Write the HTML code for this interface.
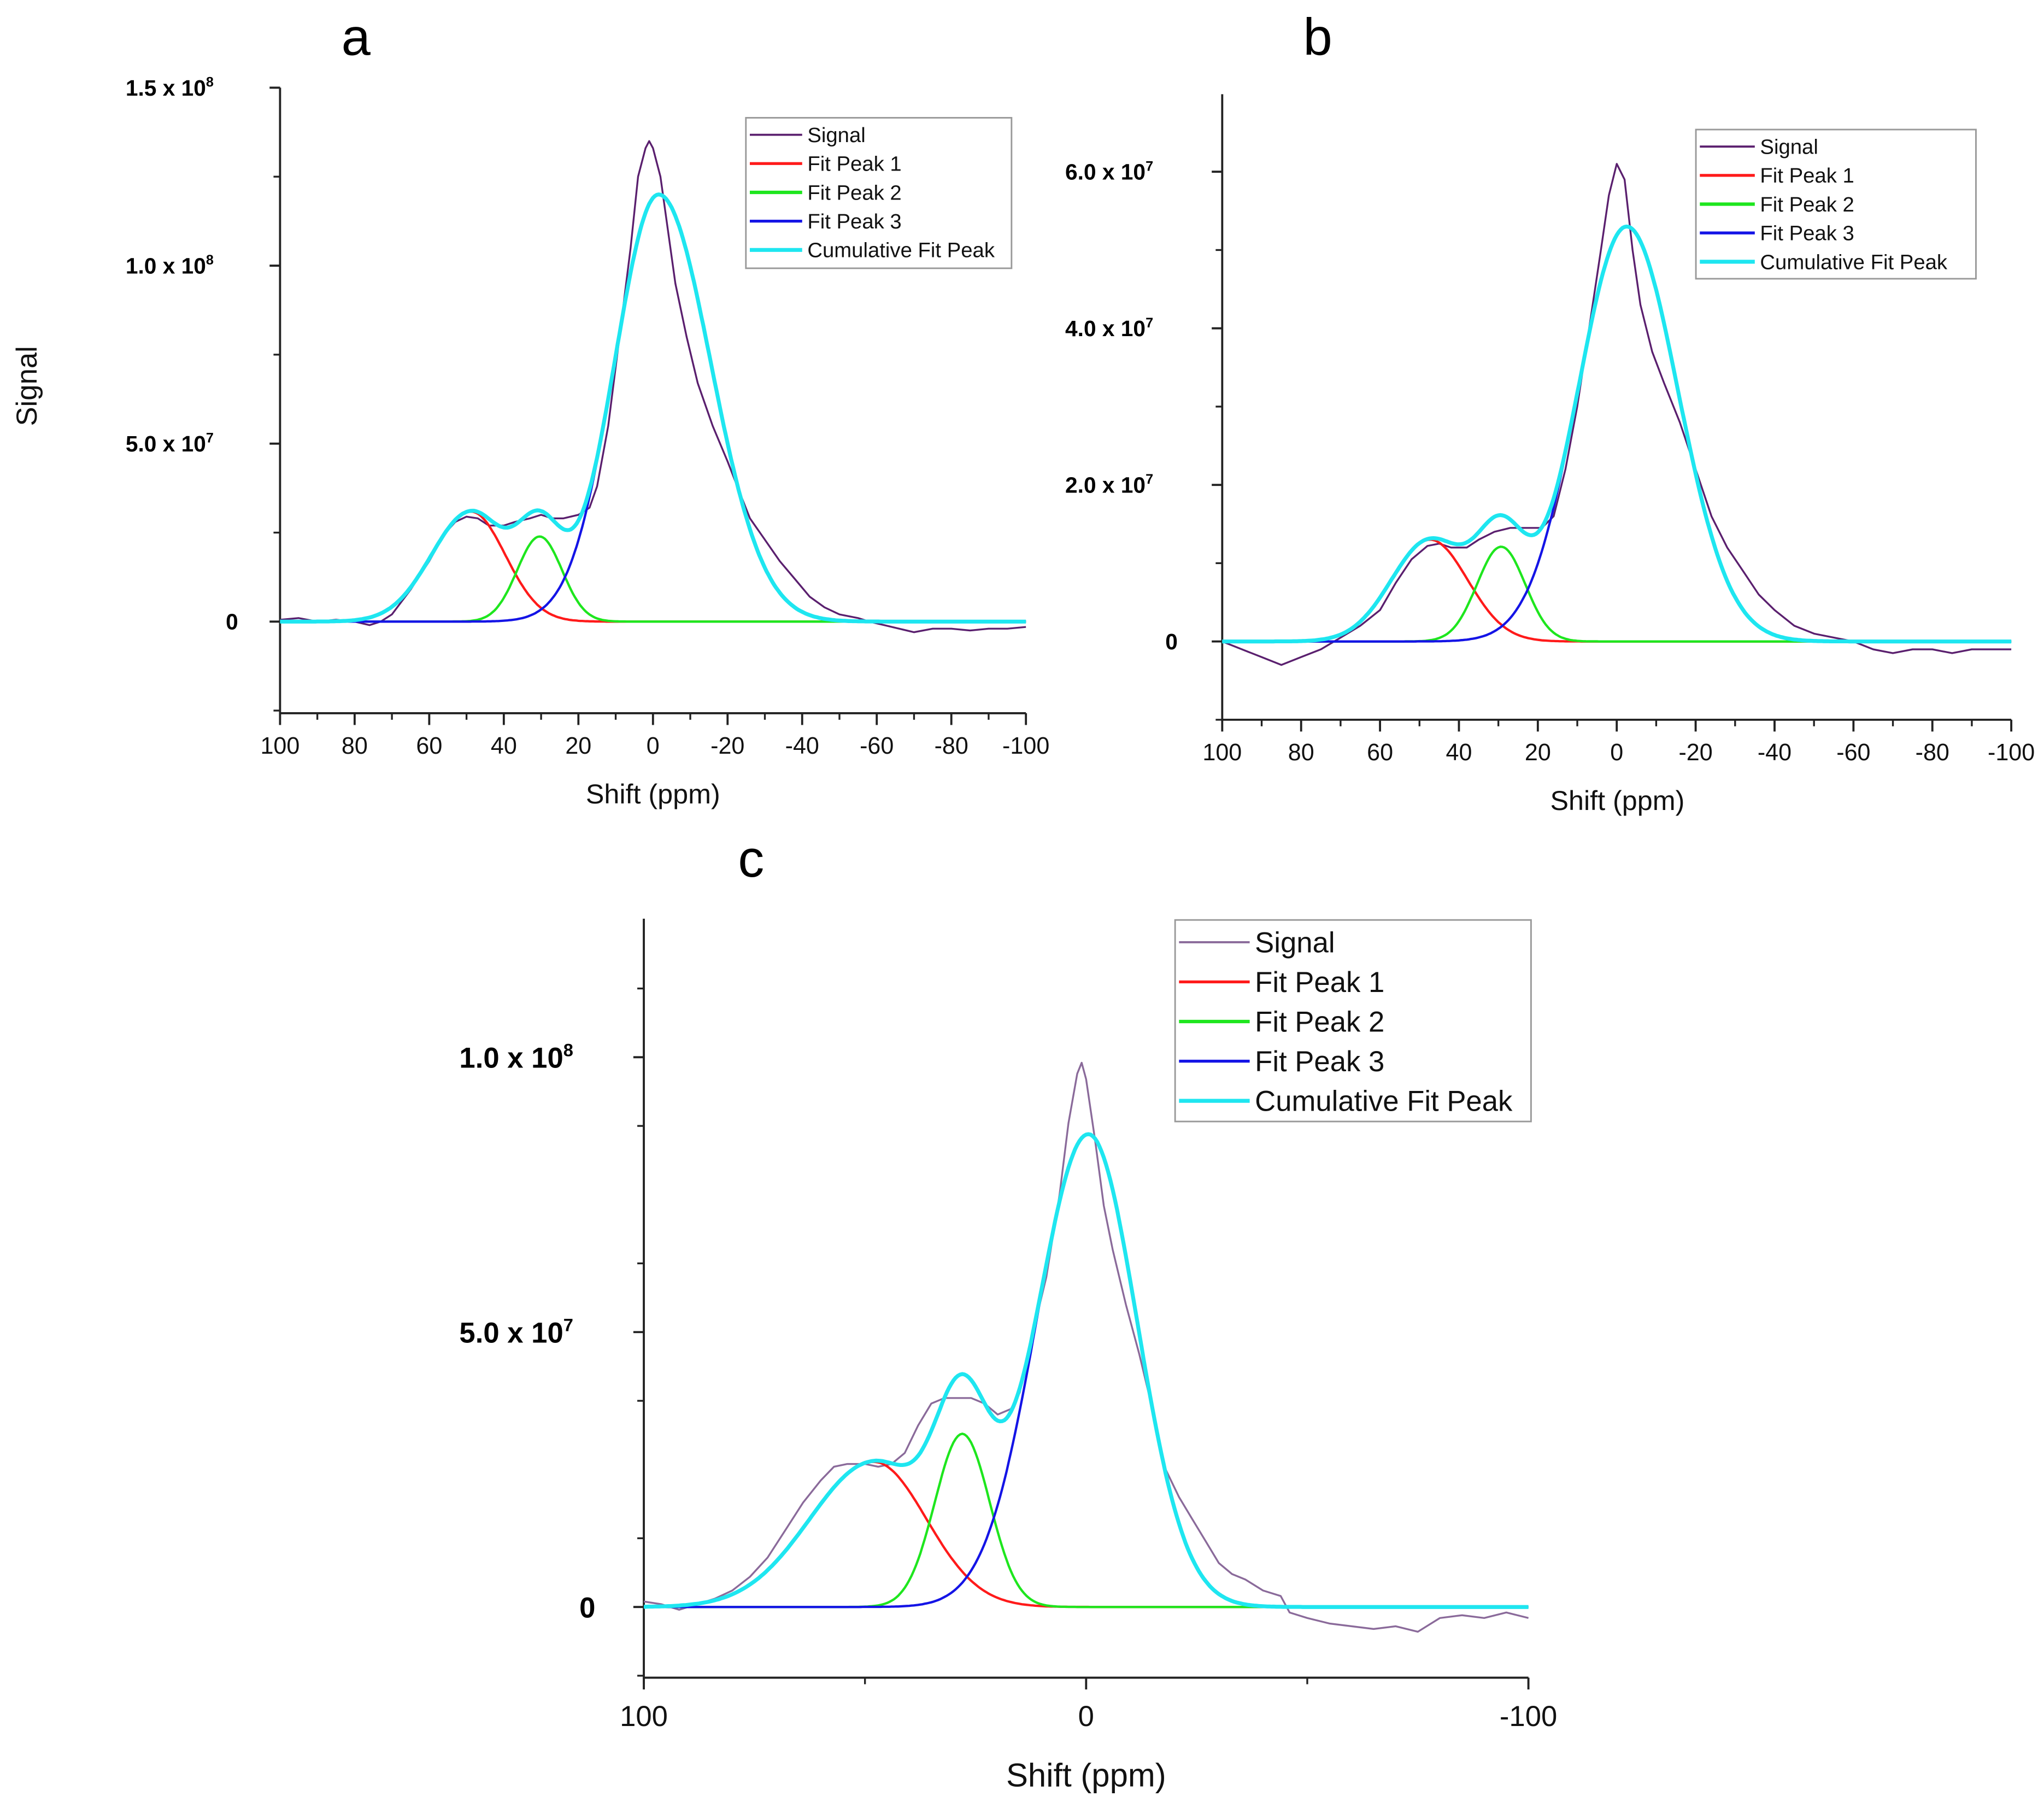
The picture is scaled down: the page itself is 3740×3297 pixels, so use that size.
<!DOCTYPE html>
<html><head><meta charset="utf-8"><style>
html,body{margin:0;padding:0;background:#fff;}
svg{display:block;font-family:"Liberation Sans",Arial,sans-serif;}
</style></head><body>
<svg id="fig" width="3740" height="3297" viewBox="0 0 1562 1377" xmlns="http://www.w3.org/2000/svg"></svg>
<script>
// ---------- data ----------
// Panel a (values in units of 1e8)
const sigA_ppm=[100,95,90,85,80,76,73,70,65,60,56,53,50,47,44,40,37,33,30,27,24,20,17,15,12,9,6,4,2,1,0,-2,-4,-6,-9,-12,-16,-20,-23,-26,-30,-34,-38,-42,-46,-50,-55,-58,-62,-66,-70,-75,-80,-85,-90,-95,-100];
const sigA_val=[0.005,0.01,0.0,0.005,0.0,-0.01,0.0,0.02,0.09,0.17,0.245,0.28,0.295,0.29,0.27,0.27,0.28,0.29,0.30,0.29,0.29,0.30,0.32,0.38,0.55,0.8,1.05,1.25,1.33,1.35,1.33,1.25,1.1,0.95,0.8,0.67,0.55,0.45,0.37,0.29,0.23,0.17,0.12,0.07,0.04,0.02,0.01,0.0,-0.01,-0.02,-0.03,-0.02,-0.02,-0.025,-0.02,-0.02,-0.015];
const fitA_center=[48.8,30.4,-1.5];
const fitA_amp=[0.309,0.239,1.2];
const fitA_sigmaHi=[10.6,6.0,11.8];
const fitA_sigmaLo=[9.2,6.0,14];
const tickA_y=[0,0.5,1.0,1.5];
const tickA_ylab=[["0",""],["5.0 x 10","7"],["1.0 x 10","8"],["1.5 x 10","8"]];
const tickA_x=[100,80,60,40,20,0,-20,-40,-60,-80,-100];

// Panel b (values in units of 1e7)
const sigB_ppm=[100,95,90,85,80,75,70,65,60,56,52,48,45,42,38,35,31,27,23,19,16,13,10,7,4,2,0,-2,-4,-6,-9,-12,-16,-20,-24,-28,-32,-36,-40,-45,-50,-55,-60,-65,-70,-75,-80,-85,-90,-95,-100];
const sigB_val=[0,-0.1,-0.2,-0.3,-0.2,-0.1,0.05,0.2,0.4,0.75,1.05,1.22,1.25,1.2,1.2,1.3,1.4,1.45,1.45,1.45,1.6,2.2,3.0,4.0,5.0,5.7,6.1,5.9,5.0,4.3,3.7,3.3,2.8,2.2,1.6,1.2,0.9,0.6,0.4,0.2,0.1,0.05,0,-0.1,-0.15,-0.1,-0.1,-0.15,-0.1,-0.1,-0.1];
const fitB_center=[47.3,29.3,-2.5];
const fitB_amp=[1.30,1.21,5.3];
const fitB_sigmaHi=[9.8,6.1,12.3];
const fitB_sigmaLo=[9.5,6.1,13];
const tickB_y=[0,2,4,6];
const tickB_ylab=[["0",""],["2.0 x 10","7"],["4.0 x 10","7"],["6.0 x 10","7"]];
const tickB_x=[100,80,60,40,20,0,-20,-40,-60,-80,-100];

// Panel c (values in units of 1e7)
const sigC_ppm=[100,96,92,88,84,80,76,72,68,64,60,57,54,50,47,44,41,38,35,32,29,26,23,20,17,15,12,9,6,4,2,1,0,-2,-4,-6,-9,-12,-15,-18,-21,-24,-27,-30,-33,-36,-40,-44,-46,-50,-55,-60,-65,-70,-75,-80,-85,-90,-95,-100];
const sigC_val=[0.1,0.05,-0.05,0.05,0.15,0.3,0.55,0.9,1.4,1.9,2.3,2.55,2.6,2.6,2.55,2.6,2.8,3.3,3.7,3.8,3.8,3.8,3.7,3.5,3.6,3.9,5.0,6.0,7.5,8.8,9.7,9.9,9.6,8.5,7.3,6.5,5.5,4.6,3.6,2.5,2.0,1.6,1.2,0.8,0.6,0.5,0.3,0.2,-0.1,-0.2,-0.3,-0.35,-0.4,-0.35,-0.45,-0.2,-0.15,-0.2,-0.1,-0.2];
const fitC_center=[48,28,-0.5];
const fitC_amp=[2.64,3.15,8.6];
const fitC_sigmaHi=[14.5,6.2,11.7];
const fitC_sigmaLo=[11.9,6.2,11];
const tickC_y=[0,5,10];
const tickC_ylab=[["0",""],["5.0 x 10","7"],["1.0 x 10","8"]];
const tickC_x=[100,0,-100];

const legendLabels=["Signal","Fit Peak 1","Fit Peak 2","Fit Peak 3","Cumulative Fit Peak"];

// ---------- drawing ----------
const NS="http://www.w3.org/2000/svg";
const svg=document.getElementById('fig');
function mk(tag,attrs,parent){const e=document.createElementNS(NS,tag);for(const k in attrs)e.setAttribute(k,attrs[k]);(parent||svg).appendChild(e);return e;}

function panel(cfg){
  const g=mk('g',{});
  
  
  const X=p=>cfg.x0+(cfg.pmax-p)/(cfg.pmax-cfg.pmin)*(cfg.x1-cfg.x0);
  const Y=v=>cfg.y0-(v-cfg.vmin)/(cfg.vmax-cfg.vmin)*(cfg.y0-cfg.y1);
  const t=mk('text',{x:cfg.titleX,y:cfg.titleY,'font-size':40,'text-anchor':'middle'},g);
  t.textContent=cfg.id;
  
  
  const ax=mk('path',{d:`M${cfg.x0},${cfg.y1}V${cfg.y0}H${cfg.x1}`,stroke:'#222','stroke-width':1.6,fill:'none'},g);
  
  
  for(let i=0;i<cfg.ymin.length;i++){
    const yy=Y(cfg.ymin[i]);
    if(yy<cfg.y1-0.5||yy>cfg.y0+0.5)continue;
    mk('line',{x1:cfg.x0-5,x2:cfg.x0,y1:yy,y2:yy,stroke:'#222','stroke-width':1.4},g);
  }
  cfg.ty.forEach((v,i)=>{
    const yy=Y(v);
    mk('line',{x1:cfg.x0-8,x2:cfg.x0,y1:yy,y2:yy,stroke:'#222','stroke-width':1.6},g);
    const tx=mk('text',{x:cfg.labX,y:yy+cfg.labDy,'font-size':cfg.yfs,'font-weight':'bold','text-anchor':'end'},g);
    
    
    const lab=cfg.tylab[i];
    if(lab[1]){
      tx.textContent=lab[0];
      const sp=mk('tspan',{dy:-cfg.yfs*0.4,'font-size':cfg.yfs*0.62},tx);sp.textContent=lab[1];
      tx.setAttribute('text-anchor','start');tx.setAttribute('x',cfg.labX-cfg.labW);
    } else tx.textContent=lab[0];
  });
  for(let p=cfg.pmax;p>=cfg.pmin;p-=cfg.xminor){
    mk('line',{x1:X(p),x2:X(p),y1:cfg.y0,y2:cfg.y0+5,stroke:'#222','stroke-width':1.4},g);
  }
  cfg.tx.forEach(p=>{
    mk('line',{x1:X(p),x2:X(p),y1:cfg.y0,y2:cfg.y0+9,stroke:'#222','stroke-width':1.6},g);
    const tx=mk('text',{x:X(p),y:cfg.y0+cfg.xlabDy,'font-size':cfg.xfs,'text-anchor':'middle',fill:'#111'},g);
    tx.textContent=String(p);
    
    
  });
  const xl=mk('text',{x:cfg.xtX,y:cfg.xtY,'font-size':cfg.xtfs,'text-anchor':'middle',fill:'#111'},g);
  xl.textContent='Shift (ppm)';
  
  
  let d='';
  cfg.sp.forEach((p,i)=>{d+=(i?'L':'M')+X(p).toFixed(1)+','+Y(cfg.sv[i]).toFixed(1);});
  const sl=mk('path',{d,stroke:cfg.sigColor,'stroke-width':1.4,fill:'none','stroke-linejoin':'round'},g);
  
  
  const colors=['#ff1a1a','#1ee61e','#1414e6'];
  const gauss=(k,p)=>{const s=p>=cfg.cen[k]?cfg.sHi[k]:cfg.sLo[k];return cfg.amp[k]*Math.exp(-Math.pow(p-cfg.cen[k],2)/(2*s*s));};
  for(let k=0;k<3;k++){
    let dd='';
    for(let p=cfg.pmax;p>=cfg.pmin-0.01;p-=0.5){dd+=(p===cfg.pmax?'M':'L')+X(p).toFixed(1)+','+Y(gauss(k,p)).toFixed(1);}
    const fl=mk('path',{d:dd,stroke:colors[k],'stroke-width':1.8,fill:'none'},g);
    
    
  }
  let dc='';
  for(let p=cfg.pmax;p>=cfg.pmin-0.01;p-=0.5){dc+=(p===cfg.pmax?'M':'L')+X(p).toFixed(1)+','+Y(gauss(0,p)+gauss(1,p)+gauss(2,p)).toFixed(1);}
  const cl=mk('path',{d:dc,stroke:'#1ee6f0','stroke-width':3,fill:'none'},g);
  
  
  const L=cfg.leg;
  const lg=mk('g',{},g);
  
  
  mk('rect',{x:L.x,y:L.y,width:L.w,height:L.h,fill:'#fff',stroke:'#999','stroke-width':1.2},lg);
  const lc=[cfg.sigColor,'#ff1a1a','#1ee61e','#1414e6','#1ee6f0'];
  const lw=[1.6,2.2,2.6,2.2,3];
  legendLabels.forEach((lab,i)=>{
    const yy=L.r0+i*L.dy;
    const e=mk('g',{},lg);
    
    
    mk('line',{x1:L.x+3,x2:L.x+L.ll,y1:yy,y2:yy,stroke:lc[i],'stroke-width':lw[i]},e);
    const tt=mk('text',{x:L.x+L.ll+4,y:yy+L.fs*0.35,'font-size':L.fs,fill:'#111'},e);
    tt.textContent=lab;
  });
}

function minorTicks(lo,hi,step){const a=[];for(let v=lo;v<=hi+1e-9;v+=step)a.push(v);return a;}

panel({id:'a',x0:214,x1:784,y0:545,y1:67,pmax:100,pmin:-100,vmin:-0.2574,vmax:1.5,
  ty:tickA_y,tylab:tickA_ylab,ymin:minorTicks(-0.25,1.5,0.25),labX:182,labW:86,labDy:6,yfs:17,
  tx:tickA_x,xminor:10,xlabDy:31,xfs:18,xtX:499,xtY:614,xtfs:21,titleX:272,titleY:42,
  sp:sigA_ppm,sv:sigA_val,cen:fitA_center,amp:fitA_amp,sHi:fitA_sigmaHi,sLo:fitA_sigmaLo,sigColor:'#5a1f6e',
  leg:{x:570,y:90,w:203,h:115,r0:103,dy:22,ll:43,fs:16}});
panel({id:'b',x0:934,x1:1537,y0:550,y1:72,pmax:100,pmin:-100,vmin:-1.0,vmax:6.99,
  ty:tickB_y,tylab:tickB_ylab,ymin:minorTicks(-1,7,1),labX:900,labW:86,labDy:6,yfs:17,
  tx:tickB_x,xminor:10,xlabDy:31,xfs:18,xtX:1236,xtY:619,xtfs:21,titleX:1007,titleY:42,
  sp:sigB_ppm,sv:sigB_val,cen:fitB_center,amp:fitB_amp,sHi:fitB_sigmaHi,sLo:fitB_sigmaLo,sigColor:'#5a1f6e',
  leg:{x:1296,y:99,w:214,h:114,r0:112,dy:22,ll:45,fs:16}});
panel({id:'c',x0:492,x1:1168,y0:1282,y1:702,pmax:100,pmin:-100,vmin:-1.286,vmax:12.52,
  ty:tickC_y,tylab:tickC_ylab,ymin:minorTicks(-1.25,12.5,2.5),labX:455,labW:104,labDy:8,yfs:22,
  tx:tickC_x,xminor:50,xlabDy:37,xfs:22,xtX:830,xtY:1365,xtfs:25,titleX:574,titleY:670,
  sp:sigC_ppm,sv:sigC_val,cen:fitC_center,amp:fitC_amp,sHi:fitC_sigmaHi,sLo:fitC_sigmaLo,sigColor:'#8a6a9a',
  leg:{x:898,y:703,w:272,h:154,r0:720,dy:30.3,ll:57,fs:22}});

const yt=mk('text',{x:0,y:0,'font-size':22,'text-anchor':'middle',transform:'translate(28,295) rotate(-90)',fill:'#111'});
yt.textContent='Signal';


</script>
</body></html>
